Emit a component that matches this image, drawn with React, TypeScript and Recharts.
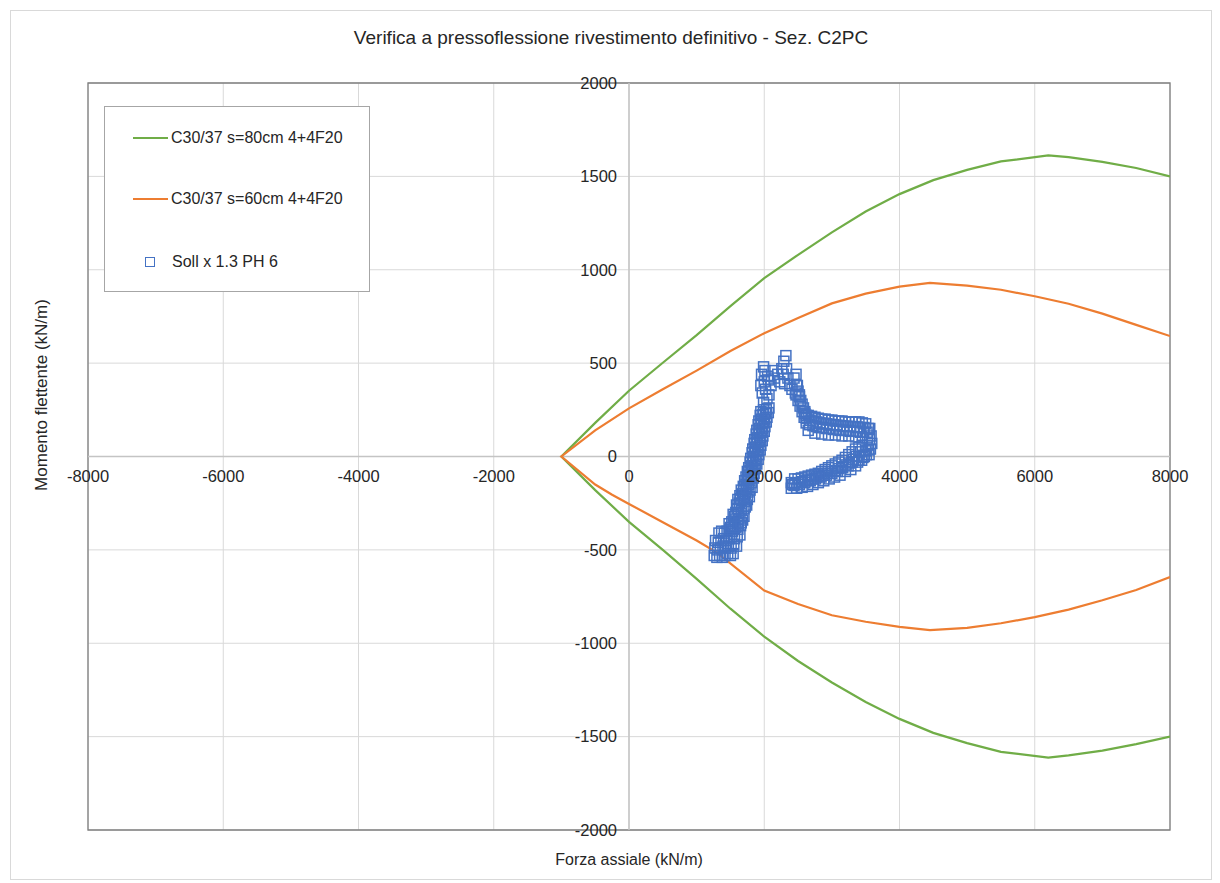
import { ScatterChart, Scatter, XAxis, YAxis, CartesianGrid, ReferenceLine, ReferenceArea, Legend } from 'recharts'

const CHART_W = 1200
const CHART_H = 868
const Y_AXIS_W = 1
const X_AXIS_H = 1
const MARGIN = { top: 72, right: 41, bottom: 48, left: 76 }
const PLOT_LEFT = MARGIN.left + Y_AXIS_W
const PLOT_W = CHART_W - PLOT_LEFT - MARGIN.right
const PLOT_H = CHART_H - MARGIN.top - MARGIN.bottom - X_AXIS_H
const ZERO_X = PLOT_LEFT + PLOT_W / 2
const ZERO_Y = MARGIN.top + PLOT_H / 2

const FONT = '"Liberation Sans", Arial, sans-serif'
const TEXT = '#262626'

const xTicks = [-8000, -6000, -4000, -2000, 0, 2000, 4000, 6000, 8000]
const yTicks = [-2000, -1500, -1000, -500, 0, 500, 1000, 1500, 2000]

// dominio resistente sezione s=80cm (kN/m, kNm/m)
const green80 = [
  { x: 8000, y: 1500 }, { x: 7500, y: 1545 }, { x: 7000, y: 1578 }, { x: 6500, y: 1603 },
  { x: 6200, y: 1612 }, { x: 5500, y: 1580 }, { x: 5000, y: 1535 }, { x: 4500, y: 1480 },
  { x: 4000, y: 1405 }, { x: 3500, y: 1312 }, { x: 3000, y: 1200 }, { x: 2500, y: 1080 },
  { x: 2000, y: 955 }, { x: 1500, y: 805 }, { x: 1000, y: 650 }, { x: 500, y: 502 },
  { x: 0, y: 352 }, { x: -500, y: 180 }, { x: -1000, y: 0 },
  { x: -500, y: -180 }, { x: 0, y: -350 }, { x: 500, y: -500 }, { x: 1000, y: -655 },
  { x: 1500, y: -815 }, { x: 2000, y: -965 }, { x: 2500, y: -1095 }, { x: 3000, y: -1210 },
  { x: 3500, y: -1315 }, { x: 4000, y: -1405 }, { x: 4500, y: -1480 }, { x: 5000, y: -1535 },
  { x: 5500, y: -1582 }, { x: 6200, y: -1612 }, { x: 6500, y: -1600 }, { x: 7000, y: -1575 },
  { x: 7500, y: -1540 }, { x: 8000, y: -1500 },
]

// dominio resistente sezione s=60cm
const orange60 = [
  { x: 8000, y: 645 }, { x: 7500, y: 705 }, { x: 7000, y: 765 }, { x: 6500, y: 818 },
  { x: 6000, y: 858 }, { x: 5500, y: 893 }, { x: 5000, y: 915 }, { x: 4450, y: 930 },
  { x: 4000, y: 910 }, { x: 3500, y: 872 }, { x: 3000, y: 820 }, { x: 2500, y: 742 },
  { x: 2000, y: 660 }, { x: 1500, y: 565 }, { x: 1000, y: 460 }, { x: 500, y: 360 },
  { x: 0, y: 258 }, { x: -500, y: 140 }, { x: -1000, y: 0 },
  { x: -500, y: -150 }, { x: -250, y: -205 }, { x: 0, y: -254 }, { x: 500, y: -352 },
  { x: 1000, y: -450 }, { x: 1300, y: -515 }, { x: 2000, y: -718 }, { x: 2500, y: -790 },
  { x: 3000, y: -850 }, { x: 3500, y: -885 }, { x: 4000, y: -912 }, { x: 4450, y: -930 },
  { x: 5000, y: -918 }, { x: 5500, y: -893 }, { x: 6000, y: -860 }, { x: 6500, y: -820 },
  { x: 7000, y: -770 }, { x: 7500, y: -715 }, { x: 8000, y: -645 },
]

// sollecitazioni x 1.3 fase 6 [N, M] - tratto basso a sinistra
const sollBlob: [number, number][] = [
  [1260, -530], [1300, -540], [1340, -530], [1380, -540], [1420, -530], [1460, -520], [1500, -530], [1540, -520],
  [1270, -490], [1310, -500], [1350, -490], [1390, -480], [1430, -490], [1470, -480], [1510, -490], [1550, -470],
  [1590, -480], [1280, -450], [1320, -460], [1360, -450], [1400, -440], [1440, -450], [1480, -440], [1520, -430],
  [1560, -440], [1600, -430], [1640, -420], [1330, -410], [1370, -400], [1410, -410], [1450, -400], [1490, -390],
  [1530, -400], [1570, -380], [1610, -390], [1650, -370],
]

// colonna verso l'alto
const sollColumn: [number, number][] = [
  [1480, -360], [1520, -350], [1560, -340], [1600, -350], [1640, -330], [1680, -340],
  [1540, -310], [1580, -300], [1620, -300], [1660, -290], [1700, -280],
  [1590, -260], [1630, -250], [1670, -250], [1710, -240], [1750, -230],
  [1640, -210], [1680, -200], [1720, -200], [1760, -190], [1790, -180],
  [1690, -160], [1730, -150], [1770, -150], [1810, -140],
  [1730, -110], [1770, -100], [1810, -100], [1850, -90],
  [1770, -60], [1810, -50], [1850, -50], [1890, -40],
  [1800, -10], [1840, 0], [1880, 0], [1920, 10],
  [1830, 40], [1870, 50], [1910, 50], [1950, 60],
  [1860, 90], [1900, 100], [1940, 100], [1980, 110],
  [1890, 140], [1930, 150], [1970, 150], [2010, 160],
  [1920, 190], [1960, 200], [2000, 200], [2040, 210],
  [1950, 240], [1990, 250], [2030, 250], [2070, 260],
  [1500, -380], [1540, -370], [1620, -360], [1660, -355], [1700, -320], [1560, -320], [1600, -280], [1720, -270],
  [1740, -260], [1610, -230], [1650, -225], [1690, -220], [1780, -215], [1660, -180], [1700, -175], [1740, -170],
  [1820, -165], [1710, -130], [1750, -125], [1790, -120], [1840, -115], [1750, -80], [1790, -75], [1830, -70],
  [1870, -65], [1790, -30], [1830, -25], [1870, -20], [1910, -15], [1820, 20], [1860, 25], [1900, 30],
  [1940, 35], [1850, 70], [1890, 75], [1930, 80], [1970, 85], [1880, 120], [1920, 125], [1960, 130],
  [2000, 135], [1910, 170], [1950, 175], [1990, 180], [2030, 185], [1940, 220], [1980, 225], [2020, 230],
  [2060, 235],
]

// punti sparsi in alto
const sollPeak: [number, number][] = [
  [1990, 290], [2040, 310], [1970, 340], [2020, 360], [2070, 330], [1950, 380], [2000, 400], [2060, 410],
  [1960, 440], [2010, 460], [1990, 480], [2050, 430], [2100, 380], [2150, 420], [2130, 460], [2200, 440],
  [2230, 400], [2260, 470], [2290, 510], [2320, 540], [2280, 440], [2330, 470], [2300, 390], [2350, 420],
  [2380, 380], [2410, 360], [2440, 420], [2470, 440], [2460, 340], [2490, 380], [2520, 330],
  [2480, 380], [2500, 350], [2520, 320], [2540, 300], [2560, 280], [2580, 260], [2600, 240], [2620, 220],
  [2500, 300], [2530, 270], [2470, 330], [2560, 240], [2590, 210],
]

// banda orizzontale a destra e ritorno
const sollBand: [number, number][] = [
  [2600, 230], [2650, 220], [2700, 215], [2750, 210], [2800, 205], [2850, 200], [2900, 200], [2950, 195],
  [3000, 195], [3050, 190], [3100, 190], [3150, 190], [3200, 185], [3250, 185], [3300, 185], [3350, 185],
  [3400, 185], [3450, 180], [3500, 175],
  [2620, 180], [2670, 170], [2720, 165], [2770, 160], [2820, 155], [2870, 155], [2920, 150], [2970, 150],
  [3020, 145], [3070, 145], [3120, 140], [3170, 140], [3220, 140], [3270, 135], [3320, 135], [3370, 135],
  [3420, 130], [3470, 130], [3520, 130],
  [2650, 140], [2750, 125], [2850, 120], [2950, 115], [3050, 115], [3150, 110], [3250, 110], [3350, 105],
  [3450, 100], [3530, 100],
  [3560, 150], [3580, 110], [3590, 70], [3570, 40], [3550, 10], [3520, 60], [3500, 30], [3480, 0], [3440, -20],
  [3400, -20], [3360, 0], [3350, -50], [3300, -30], [3280, -70], [3240, -50], [3200, -80], [3160, -60],
  [3120, -100], [3080, -80], [3040, -110], [3000, -90], [2960, -120], [2920, -100], [2880, -130], [2840, -110],
  [2800, -140], [2760, -120], [2720, -150], [2680, -130], [2640, -160], [2600, -140], [2560, -165], [2520, -150],
  [2480, -170], [2440, -155], [2400, -170], [2400, -140], [2450, -120], [2500, -120], [2550, -115], [2600, -110],
  [2650, -105], [2700, -100], [2750, -95], [2800, -90], [2850, -80], [2900, -70], [2950, -60], [3000, -50],
  [3050, -40], [3100, -30], [3150, -20], [3200, -5], [3250, 10], [3300, 25], [3350, 40], [3400, 50], [3450, 60],
  [2625, 205], [2675, 195], [2725, 190], [2775, 185], [2825, 180], [2875, 178], [2925, 175], [2975, 172],
  [3025, 170], [3075, 168], [3125, 165], [3175, 163], [3225, 162], [3275, 160], [3325, 160], [3375, 158],
  [3425, 155], [3475, 155], [3540, 150], [3560, 90], [3540, 35], [3510, 10], [3460, -5], [3420, 25],
  [3380, -30], [3320, -15], [3260, -35], [3210, -45], [3150, -55], [3100, -65], [3050, -75], [2990, -80],
  [2930, -90], [2870, -100], [2820, -105], [2770, -110], [2710, -120], [2660, -125], [2610, -130], [2560, -135],
  [2500, -140], [2450, -145], [2420, -150],
]

const sollData = [...sollBlob, ...sollColumn, ...sollPeak, ...sollBand].map(([x, y]) => ({ x, y }))

const XTick = ({ x, payload }: any) => (
  <text x={x} y={ZERO_Y + 20} dy="0.35em" textAnchor="middle" fontSize={16.5} fill={TEXT} fontFamily={FONT}>
    {payload.value}
  </text>
)

const YTick = ({ y, payload }: any) => (
  <text x={ZERO_X - 12} y={y} dy="0.35em" textAnchor="end" fontSize={16.5} fill={TEXT} fontFamily={FONT}>
    {payload.value}
  </text>
)

const SquareShape = (props: any) => {
  const { cx, cy } = props
  if (cx == null || cy == null) return <g />
  return <rect x={cx - 5} y={cy - 5} width={10} height={10} fill="none" stroke="#4472C4" strokeWidth={1.5} />
}

const legendItems = [
  { value: 'C30/37 s=80cm 4+4F20', type: 'line', color: '#70AD47' },
  { value: 'C30/37 s=60cm 4+4F20', type: 'line', color: '#ED7D31' },
  { value: 'Soll x 1.3 PH 6', type: 'square', color: '#4472C4' },
]
const rowTops = [31, 92, 155]

const LegendBox = ({ items }: { items: typeof legendItems }) => (
  <div style={{ position: 'relative', width: 264, height: 184, border: '1px solid #a6a6a6', background: '#fff', fontFamily: FONT, fontSize: 16, color: TEXT }}>
    {items.map((entry, i) => (
      <div key={i} style={{ position: 'absolute', left: 0, top: rowTops[i] - 10, height: 20, width: '100%' }}>
        {entry.type === 'square' ? (
          <div style={{ position: 'absolute', left: 40, top: 5, width: 8, height: 8, border: '1.3px solid #4472C4' }} />
        ) : (
          <div style={{ position: 'absolute', left: 28, top: 9, width: 35, height: 2, background: entry.color }} />
        )}
        <span style={{ position: 'absolute', left: entry.type === 'square' ? 67 : 66, top: 0, lineHeight: '20px', whiteSpace: 'nowrap' }}>
          {entry.value}
        </span>
      </div>
    ))}
  </div>
)

export default function App() {
  return (
    <div style={{ position: 'relative', width: CHART_W, height: CHART_H, border: '1px solid #d9d9d9', margin: '2px 0 0 2px', background: '#fff', fontFamily: FONT }}>
      <div style={{ position: 'absolute', top: 15, left: 0, width: CHART_W, textAlign: 'center', fontSize: 19, lineHeight: '24px', color: TEXT }}>
        Verifica a pressoflessione rivestimento definitivo - Sez. C2PC
      </div>
      <ScatterChart width={CHART_W} height={CHART_H} margin={MARGIN}>
        <CartesianGrid stroke="#d9d9d9" strokeWidth={1} />
        <XAxis type="number" dataKey="x" domain={[-8000, 8000]} ticks={xTicks} interval={0} height={X_AXIS_H}
          axisLine={false} tickLine={false} tick={<XTick />} allowDataOverflow />
        <YAxis type="number" dataKey="y" domain={[-2000, 2000]} ticks={yTicks} interval={0} width={Y_AXIS_W}
          axisLine={false} tickLine={false} tick={<YTick />} allowDataOverflow />
        <ReferenceLine x={0} stroke="#c4c4c4" strokeWidth={1.5} />
        <ReferenceLine y={0} stroke="#c4c4c4" strokeWidth={1.5} />
        <ReferenceArea x1={-8000} x2={8000} y1={-2000} y2={2000} fill="none" stroke="#7f7f7f" strokeWidth={1.3} />
        <Scatter name="C30/37 s=80cm 4+4F20" data={green80} fill="#70AD47"
          line={{ stroke: '#70AD47', strokeWidth: 2.2 }} lineJointType="linear" shape={() => <g />} isAnimationActive={false} />
        <Scatter name="C30/37 s=60cm 4+4F20" data={orange60} fill="#ED7D31"
          line={{ stroke: '#ED7D31', strokeWidth: 2.2 }} lineJointType="linear" shape={() => <g />} isAnimationActive={false} />
        <Scatter name="Soll x 1.3 PH 6" data={sollData} fill="#4472C4" shape={<SquareShape />} isAnimationActive={false} />
        <Legend layout="vertical" align="center" verticalAlign="middle"
          content={() => <LegendBox items={legendItems} />}
          wrapperStyle={{ left: 93, top: 95, width: 266, height: 186 }} />
      </ScatterChart>
      <div style={{ position: 'absolute', top: 838, left: PLOT_LEFT, width: PLOT_W, textAlign: 'center', fontSize: 16, lineHeight: '22px', color: TEXT }}>
        Forza assiale (kN/m)
      </div>
      <div style={{ position: 'absolute', left: 31, top: 384, transform: 'translate(-50%, -50%) rotate(-90deg)', whiteSpace: 'nowrap', fontSize: 17, color: TEXT }}>
        Momento flettente (kN/m)
      </div>
    </div>
  )
}
